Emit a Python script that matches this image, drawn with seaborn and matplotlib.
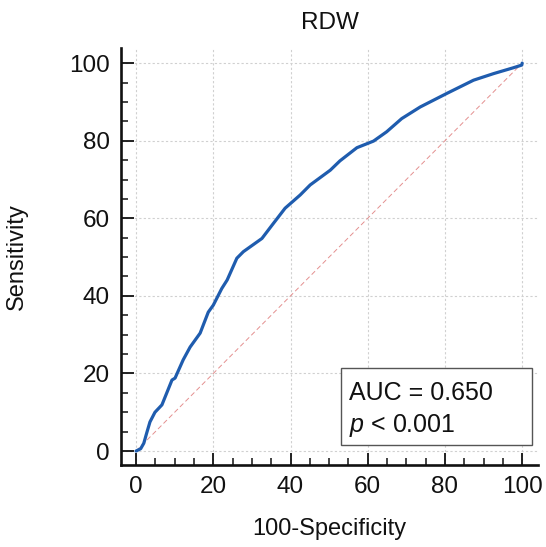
import matplotlib
matplotlib.use("Agg")
import matplotlib.pyplot as plt
import seaborn as sns
import pandas as pd
from matplotlib.patches import Rectangle
from matplotlib.ticker import MultipleLocator

# ROC curve (100-Specificity, Sensitivity)
fpr = [0.0, 1.2, 2.0, 2.8, 3.6, 4.9, 6.7, 9.3, 10.1, 12.2, 14.0, 16.6, 18.7, 20.0,
       22.2, 23.6, 26.1, 27.8, 32.6, 35.2, 38.6, 42.5, 45.1, 50.3, 52.8, 57.2,
       61.5, 64.9, 68.8, 73.6, 80.5, 87.4, 92.6, 97.7, 99.9, 100.0]
tpr = [0.0, 0.6, 2.0, 4.8, 7.5, 10.0, 11.9, 18.3, 18.8, 23.5, 26.8, 30.4, 35.8, 37.6,
       41.9, 44.1, 49.7, 51.4, 54.8, 58.2, 62.6, 66.0, 68.6, 72.4, 74.8, 78.2,
       79.9, 82.3, 85.7, 88.7, 92.2, 95.6, 97.3, 98.8, 99.5, 100.0]
ref_x = [0, 100]
ref_y = [0, 100]
ticks = [0, 20, 40, 60, 80, 100]
title = "RDW"
auc_text = "AUC = 0.650"
p_text = "$p$ < 0.001"

sns.set_style("ticks")
plt.rcParams['font.family'] = ['Liberation Sans', 'DejaVu Sans']
plt.rcParams['mathtext.fontset'] = 'custom'
plt.rcParams['mathtext.it'] = 'Liberation Sans:italic'
plt.rcParams['mathtext.rm'] = 'Liberation Sans'

fig = plt.figure(figsize=(5.46, 5.47), dpi=100)
ax = fig.add_axes([121/546, 1-465/547, (538-121)/546, (465-48)/547])

df = pd.DataFrame({"x": fpr, "y": tpr})
ref = pd.DataFrame({"x": ref_x, "y": ref_y})

ax.grid(True, which='major', color='#d0d0d0', linestyle=(0, (2, 2)), linewidth=0.8)
ax.set_axisbelow(True)
sns.lineplot(data=ref, x="x", y="y", ax=ax, color='#e49090', linewidth=0.7,
             linestyle=(0, (5, 3)), sort=False)
sns.lineplot(data=df, x="x", y="y", ax=ax, color='#1f5cae', linewidth=2.3,
             sort=False, estimator=None)

ax.set_xlim(-3.9, 104.1)
ax.set_ylim(-3.6, 103.9)
ax.set_xticks(ticks)
ax.set_yticks(ticks)
ax.xaxis.set_minor_locator(MultipleLocator(5))
ax.yaxis.set_minor_locator(MultipleLocator(5))
ax.tick_params(which='both', bottom=True, left=True, top=False, right=False)
ax.tick_params(which='major', direction='in', length=9, width=1.3, labelsize=17.5,
               pad=8, color='#111111', labelcolor='#111111')
ax.tick_params(which='minor', direction='in', length=5, width=1.1, color='#111111')
for s in ['top', 'right']:
    ax.spines[s].set_visible(False)
for s in ['left', 'bottom']:
    ax.spines[s].set_linewidth(1.9)
    ax.spines[s].set_color('#111111')

ax.set_xlabel("100-Specificity", fontsize=17, labelpad=14, color='#111111')
ax.set_ylabel("Sensitivity", fontsize=17, labelpad=30, color='#111111')
ax.set_title(title, fontsize=17.5, pad=14, color='#111111')

ax.add_patch(Rectangle((0.528, 0.048), 0.458, 0.185, transform=ax.transAxes,
                       facecolor='white', edgecolor='#555555', linewidth=1.0, zorder=5))
ax.text(0.547, 0.156, auc_text, transform=ax.transAxes, fontsize=18,
        va='baseline', ha='left', zorder=6, color='#111111')
ax.text(0.547, 0.078, p_text, transform=ax.transAxes, fontsize=18,
        va='baseline', ha='left', zorder=6, color='#111111')

fig.savefig("out.png", dpi=100)
